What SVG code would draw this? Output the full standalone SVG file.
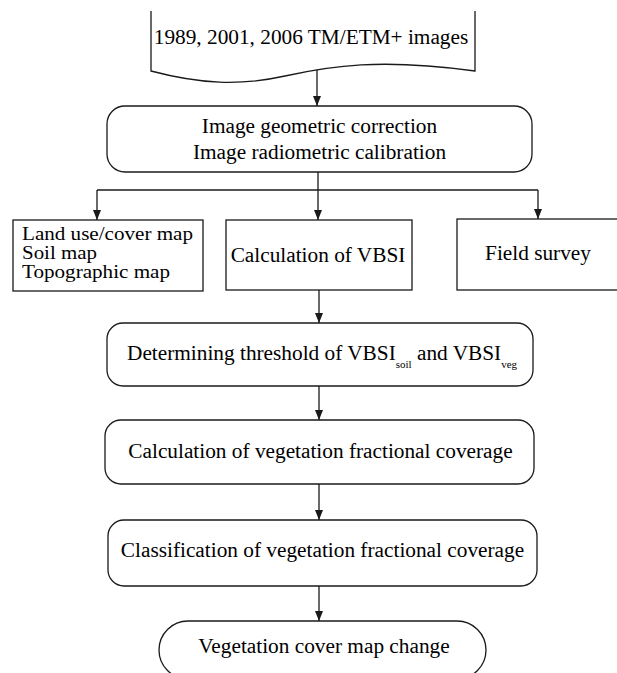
<svg xmlns="http://www.w3.org/2000/svg" width="617" height="673" viewBox="0 0 617 673">
  <style>
    .shape { fill: #ffffff; stroke: #1a1a1a; stroke-width: 1.3; }
    .conn { fill: none; stroke: #1a1a1a; stroke-width: 1.3; }
    text { font-family: "Liberation Serif", "Times New Roman", serif; font-size: 21.3px; fill: #000000; }
    .mid { text-anchor: middle; }
    .small { font-size: 18px; }
    .sub { font-size: 11px; }
  </style>
  <defs>
    <marker id="arrow" markerUnits="userSpaceOnUse" viewBox="0 0 10 8" refX="10" refY="4" markerWidth="10" markerHeight="8" orient="auto">
      <path d="M0,0 L10,4 L0,8 Z" fill="#1a1a1a"/>
    </marker>
  </defs>
  <rect width="617" height="673" fill="#ffffff"/>

  <g id="connectors">
    <path class="conn" d="M317,69 V106" marker-end="url(#arrow)"/>
    <path class="conn" d="M318,172 V220" marker-end="url(#arrow)"/>
    <path class="conn" d="M97,190 H538"/>
    <path class="conn" d="M97,190 V220" marker-end="url(#arrow)"/>
    <path class="conn" d="M538,190 V219" marker-end="url(#arrow)"/>
    <path class="conn" d="M319,290 V323" marker-end="url(#arrow)"/>
    <path class="conn" d="M319,386 V420" marker-end="url(#arrow)"/>
    <path class="conn" d="M319,484 V520" marker-end="url(#arrow)"/>
    <path class="conn" d="M319,586 V621" marker-end="url(#arrow)"/>
  </g>

  <g id="node-images">
    <path class="shape" d="M151,11 V71 C200,84 240,86 285,76 C330,66 380,58 475,71 V11"/>
    <text class="mid" x="311" y="44">1989, 2001, 2006 TM/ETM+ images</text>
  </g>

  <g id="node-correction">
    <rect class="shape" x="107" y="106" width="425" height="66" rx="18" ry="18"/>
    <text class="mid" x="319.5" y="133">Image geometric correction</text>
    <text class="mid" x="319.5" y="159">Image radiometric calibration</text>
  </g>

  <g id="node-maps">
    <rect class="shape" x="13" y="220" width="190" height="71"/>
    <text class="small" x="22" y="240" textLength="171" lengthAdjust="spacingAndGlyphs">Land use/cover map</text>
    <text class="small" x="22" y="259" textLength="75" lengthAdjust="spacingAndGlyphs">Soil map</text>
    <text class="small" x="22" y="278" textLength="148" lengthAdjust="spacingAndGlyphs">Topographic map</text>
  </g>

  <g id="node-vbsi">
    <rect class="shape" x="226" y="220" width="186" height="70"/>
    <text class="mid" x="318" y="262">Calculation of VBSI</text>
  </g>

  <g id="node-field">
    <rect class="shape" x="457" y="219" width="165" height="71"/>
    <text class="mid" x="538" y="260">Field survey</text>
  </g>

  <g id="node-threshold">
    <rect class="shape" x="107" y="323" width="426" height="63" rx="16" ry="16"/>
    <text x="127" y="360">Determining threshold of VBSI<tspan class="sub" dy="8">soil</tspan><tspan dy="-8"> and VBSI</tspan><tspan class="sub" dy="8">veg</tspan></text>
  </g>

  <g id="node-calc-coverage">
    <rect class="shape" x="105" y="420" width="429" height="64" rx="16" ry="16"/>
    <text class="mid" x="320.5" y="458">Calculation of vegetation fractional coverage</text>
  </g>

  <g id="node-class-coverage">
    <rect class="shape" x="108" y="520" width="429" height="66" rx="16" ry="16"/>
    <text class="mid" x="322.5" y="557">Classification of vegetation fractional coverage</text>
  </g>

  <g id="node-change">
    <rect class="shape" x="159" y="621" width="327" height="58" rx="29" ry="29"/>
    <text class="mid" x="324" y="653">Vegetation cover map change</text>
  </g>
</svg>
